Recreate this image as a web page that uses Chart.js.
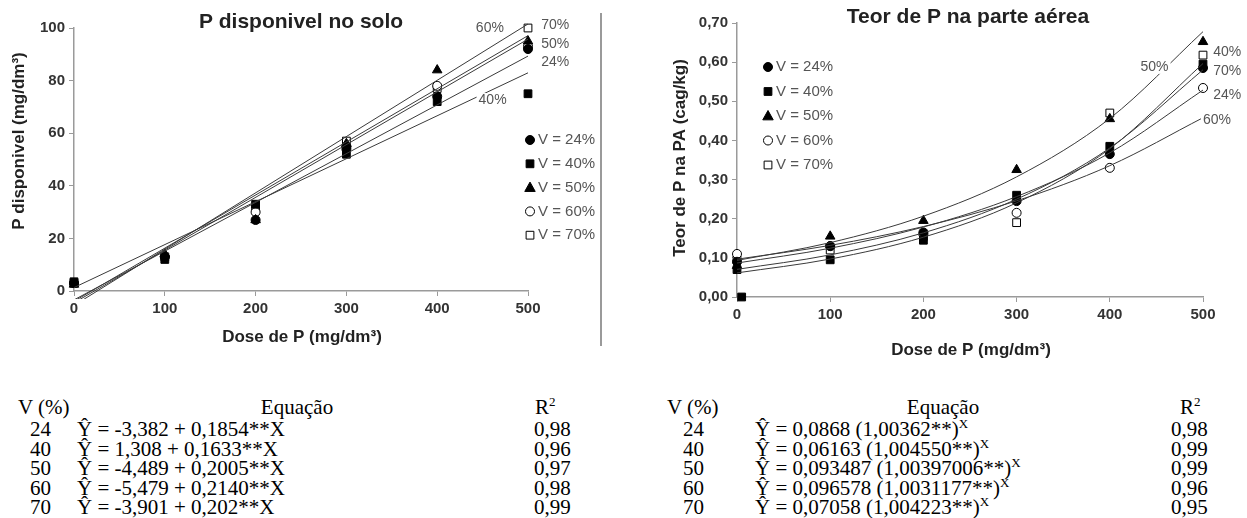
<!DOCTYPE html>
<html>
<head>
<meta charset="utf-8">
<script src="https://cdn.jsdelivr.net/npm/chart.js@4"></script>
<style>
  body { margin: 0; background: #fff; width: 1247px; height: 518px; position: relative; overflow: hidden; }
  #soloWrap { position: absolute; left: 0; top: 0; width: 600px; height: 360px; }
  #paWrap { position: absolute; left: 610px; top: 0; width: 637px; height: 365px; }
  .sep { position: absolute; left: 600px; top: 13px; width: 2px; height: 333px; background: #9a9a9a; }
  .tbl div { position: absolute; font-family: "Liberation Serif", "Times New Roman", serif; font-size: 21px; line-height: 20px; color: #000; white-space: nowrap; }
  .tbl sup { font-size: 13px; vertical-align: 8px; line-height: 0; }
</style>
</head>
<body>
<div id="soloWrap"><canvas id="solo-chart"></canvas></div>
<div class="sep"></div>
<div id="paWrap"><canvas id="pa-chart"></canvas></div>
<div class="tbl" id="tblSolo"></div>
<div class="tbl" id="tblPa"></div>

<script>
// ---- data ----
const doses = [0, 100, 200, 300, 400, 500];
const vLevels = ["24", "40", "50", "60", "70"];

// P disponivel no solo (mg/dm3)
const soloV24 = [3, 13, 27, 54, 74, 92];
const soloV40 = [3.5, 12, 33, 52, 72, 75];
const soloV50 = [2.5, 14, 27, 56, 84, 95];
const soloV60 = [3, 13, 30, 55, 78, 93];
const soloV70 = [3, 13, 32, 57, 77, 100];
// fitted lines, ends at dose 0 and 500
const fitEnds = [0, 500];
const soloFit24 = [-3.382, 89.318];
const soloFit40 = [1.308, 82.958];
const soloFit50 = [-4.489, 95.761];
const soloFit60 = [-5.479, 101.521];
const soloFit70 = [-3.901, 97.099];

// Teor de P na parte aerea (dag/kg)
const paV24 = [0.09, 0.13, 0.165, 0.245, 0.365, 0.585];
const paV40 = [0.07, 0.095, 0.145, 0.26, 0.385, 0.595];
const paV50 = [0.08, 0.155, 0.195, 0.325, 0.455, 0.652];
const paV60 = [0.11, 0.13, 0.16, 0.215, 0.33, 0.534];
const paV70 = [0.095, 0.12, 0.155, 0.19, 0.47, 0.618];
const paV40ZeroDose = [5];
const paV40ZeroVal = [0];
// fitted curves read at each dose
const paFit24 = [0.0868, 0.1246, 0.1788, 0.2566, 0.3683, 0.5287];
const paFit40 = [0.0616, 0.0970, 0.1528, 0.2406, 0.3788, 0.5965];
const paFit50 = [0.0935, 0.1389, 0.2065, 0.3069, 0.4561, 0.6779];
const paFit60 = [0.0966, 0.1319, 0.1800, 0.2457, 0.3355, 0.4580];
const paFit70 = [0.0706, 0.1076, 0.1639, 0.2499, 0.3808, 0.5805];

// equation tables
const soloEq = ["Ŷ = -3,382 + 0,1854**X", "Ŷ = 1,308 + 0,1633**X", "Ŷ = -4,489 + 0,2005**X", "Ŷ = -5,479 + 0,2140**X", "Ŷ = -3,901 + 0,202**X"];
const soloR2 = ["0,98", "0,96", "0,97", "0,98", "0,99"];
const paEq = ["Ŷ = 0,0868 (1,00362**)", "Ŷ = 0,06163 (1,004550**)", "Ŷ = 0,093487 (1,00397006**)", "Ŷ = 0,096578 (1,0031177**)", "Ŷ = 0,07058 (1,004223**)"];
const paR2 = ["0,98", "0,99", "0,99", "0,96", "0,95"];

// ---- styles ----
const sans = '"Liberation Sans", Arial, sans-serif';
const tickColor = "#333";
const axisColor = "#9a9a9a";
const markers = [
  { style: "circle", fill: "#000", r: 4.5 },
  { style: "rect", fill: "#000", r: 5.5 },
  { style: "triangle", fill: "#000", r: 5.5 },
  { style: "circle", fill: "#fff", r: 4.5 },
  { style: "rect", fill: "#fff", r: 5.5 }
];

const toPoints = (xs, ys) => xs.map((x, i) => ({ x: x, y: ys[i] }));

function drawMarker(ctx, m, x, y) {
  ctx.beginPath();
  if (m.style === "circle") {
    ctx.arc(x, y, m.r, 0, Math.PI * 2);
  } else if (m.style === "rect") {
    const s = m.r * Math.SQRT1_2;
    ctx.rect(x - s, y - s, 2 * s, 2 * s);
  } else {
    ctx.moveTo(x, y - m.r);
    ctx.lineTo(x + m.r * 0.95, y + m.r * 0.7);
    ctx.lineTo(x - m.r * 0.95, y + m.r * 0.7);
    ctx.closePath();
  }
  ctx.fillStyle = m.fill;
  ctx.fill();
  ctx.lineWidth = 1;
  ctx.strokeStyle = "#000";
  ctx.stroke();
}

// titles, axis titles, curve tags and legend
const decor = {
  id: "decor",
  afterDatasetsDraw(chart, args, o) {
    const ctx = chart.ctx;
    const xs = chart.scales.x, ys = chart.scales.y;
    ctx.save();
    ctx.textBaseline = "middle";

    ctx.font = "14px " + sans;
    ctx.textAlign = "center";
    o.tags.forEach(t => {
      const px = xs.getPixelForValue(t.x), py = ys.getPixelForValue(t.y);
      const w = ctx.measureText(t.text).width;
      ctx.fillStyle = "#fff";
      ctx.fillRect(px - w / 2 - 2, py - 7, w + 4, 14);
      ctx.fillStyle = "#555";
      ctx.fillText(t.text, px, py);
    });

    ctx.textAlign = "left";
    ctx.font = "15px " + sans;
    vLevels.forEach((v, i) => {
      const y = o.legend.y + i * o.legend.step;
      drawMarker(ctx, markers[i], o.legend.x, y);
      ctx.fillStyle = "#555";
      ctx.fillText("V = " + v + "%", o.legend.x + 8, y);
    });

    ctx.textAlign = "center";
    ctx.fillStyle = "#222";
    ctx.font = "bold 21px " + sans;
    ctx.fillText(o.title.text, o.title.x, o.title.y);
    ctx.font = "bold 17px " + sans;
    ctx.fillText(o.xTitle.text, o.xTitle.x, o.xTitle.y);
    ctx.translate(o.yTitle.x, o.yTitle.y);
    ctx.rotate(-Math.PI / 2);
    ctx.fillText(o.yTitle.text, 0, 0);
    ctx.restore();
  }
};

const axisCommon = (min, max, step, size, fmt) => ({
  type: "linear",
  min: min,
  max: max,
  ticks: {
    stepSize: step,
    color: tickColor,
    padding: 4,
    font: { family: sans, size: 15, weight: "bold" },
    callback: fmt
  },
  grid: { drawOnChartArea: false, tickLength: 5, color: axisColor },
  border: { color: axisColor, width: 1.5 }
});

const buildDatasets = (series, fits, fitX, curved, clip) => {
  const sets = [];
  fits.forEach(f => {
    sets.push({
      type: "line",
      data: toPoints(fitX, f),
      borderColor: "#3a3a3a",
      borderWidth: 1,
      pointRadius: 0,
      cubicInterpolationMode: curved ? "monotone" : "default",
      clip: clip
    });
  });
  series.forEach((s, i) => {
    sets.push({
      type: "scatter",
      data: toPoints(doses, s),
      pointStyle: markers[i].style,
      pointRadius: markers[i].r,
      backgroundColor: markers[i].fill,
      borderColor: "#000",
      borderWidth: 1,
      clip: false
    });
  });
  return sets;
};

const createSoloChart = () => {
  const ctx = document.getElementById("solo-chart").getContext("2d");
  const x = axisCommon(0, 500, 100);
  x.afterFit = s => { s.height = 69; };
  const y = axisCommon(0, 100, 20);
  y.afterFit = s => { s.width = 74; };
  new Chart(ctx, {
    type: "scatter",
    data: {
      datasets: buildDatasets(
        [soloV24, soloV40, soloV50, soloV60, soloV70],
        [soloFit24, soloFit40, soloFit50, soloFit60, soloFit70],
        fitEnds, false, { left: 0, top: false, right: 0, bottom: 8 })
    },
    options: {
      responsive: true,
      maintainAspectRatio: false,
      animation: false,
      layout: { padding: { left: 0, top: 28, right: 72, bottom: 0 } },
      plugins: {
        legend: { display: false },
        tooltip: { enabled: false },
        decor: {
          title: { text: "P disponivel no solo", x: 301, y: 22 },
          xTitle: { text: "Dose de P (mg/dm³)", x: 302, y: 337 },
          yTitle: { text: "P disponivel (mg/dm³)", x: 19, y: 141 },
          legend: { x: 530, y: 140, step: 23.8 },
          tags: [
            { text: "70%", x: 530, y: 101 },
            { text: "50%", x: 530, y: 94 },
            { text: "24%", x: 530, y: 87 },
            { text: "60%", x: 458, y: 100 },
            { text: "40%", x: 461, y: 72.6 }
          ]
        }
      },
      scales: { x: x, y: y }
    },
    plugins: [decor]
  });
};

const createPaChart = () => {
  const ctx = document.getElementById("pa-chart").getContext("2d");
  const x = axisCommon(0, 500, 100);
  x.afterFit = s => { s.height = 68; };
  const y = axisCommon(0, 0.7, 0.1, 0, v => v.toFixed(2).replace(".", ","));
  y.ticks.callback = v => v.toFixed(2).replace(".", ",");
  y.afterFit = s => { s.width = 127; };
  const sets = buildDatasets(
    [paV24, paV40, paV50, paV60, paV70],
    [paFit24, paFit40, paFit50, paFit60, paFit70],
    doses, true, false);
  sets.push({
    type: "scatter",
    data: toPoints(paV40ZeroDose, paV40ZeroVal),
    pointStyle: markers[1].style,
    pointRadius: markers[1].r,
    backgroundColor: "#000",
    borderColor: "#000",
    borderWidth: 1,
    clip: false
  });
  new Chart(ctx, {
    type: "scatter",
    data: { datasets: sets },
    options: {
      responsive: true,
      maintainAspectRatio: false,
      animation: false,
      layout: { padding: { left: 0, top: 23, right: 44, bottom: 0 } },
      plugins: {
        legend: { display: false },
        tooltip: { enabled: false },
        decor: {
          title: { text: "Teor de P na parte aérea", x: 358, y: 17 },
          xTitle: { text: "Dose de P (mg/dm³)", x: 361, y: 350 },
          yTitle: { text: "Teor de P na PA (cag/kg)", x: 70, y: 158 },
          legend: { x: 158, y: 67, step: 24.5 },
          tags: [
            { text: "50%", x: 448, y: 0.588 },
            { text: "40%", x: 526, y: 0.626 },
            { text: "70%", x: 526, y: 0.577 },
            { text: "24%", x: 526, y: 0.516 },
            { text: "60%", x: 515, y: 0.452 }
          ]
        }
      },
      scales: { x: x, y: y }
    },
    plugins: [decor]
  });
};

// ---- equation tables ----
const fillTable = (id, cols, eqs, r2s, withPower) => {
  const box = document.getElementById(id);
  const add = (html, left, top, center) => {
    const d = document.createElement("div");
    d.innerHTML = html;
    d.style.left = left + "px";
    d.style.top = top + "px";
    if (center) d.style.transform = "translateX(-50%)";
    box.appendChild(d);
  };
  add("V (%)", cols.v, 397);
  add("Equação", cols.eq, 397, true);
  add("R<sup>2</sup>", cols.r2h, 397);
  vLevels.forEach((v, i) => {
    const top = 419 + i * 19.6;
    add(v, cols.n, top);
    add(eqs[i] + (withPower ? "<sup>X</sup>" : ""), cols.e, top);
    add(r2s[i], cols.r2, top);
  });
};

createSoloChart();
createPaChart();
fillTable("tblSolo", { v: 18, eq: 297, r2h: 535, n: 30, e: 77, r2: 534 }, soloEq, soloR2, false);
fillTable("tblPa", { v: 667, eq: 943, r2h: 1180, n: 683, e: 755, r2: 1171 }, paEq, paR2, true);
</script>
</body>
</html>
